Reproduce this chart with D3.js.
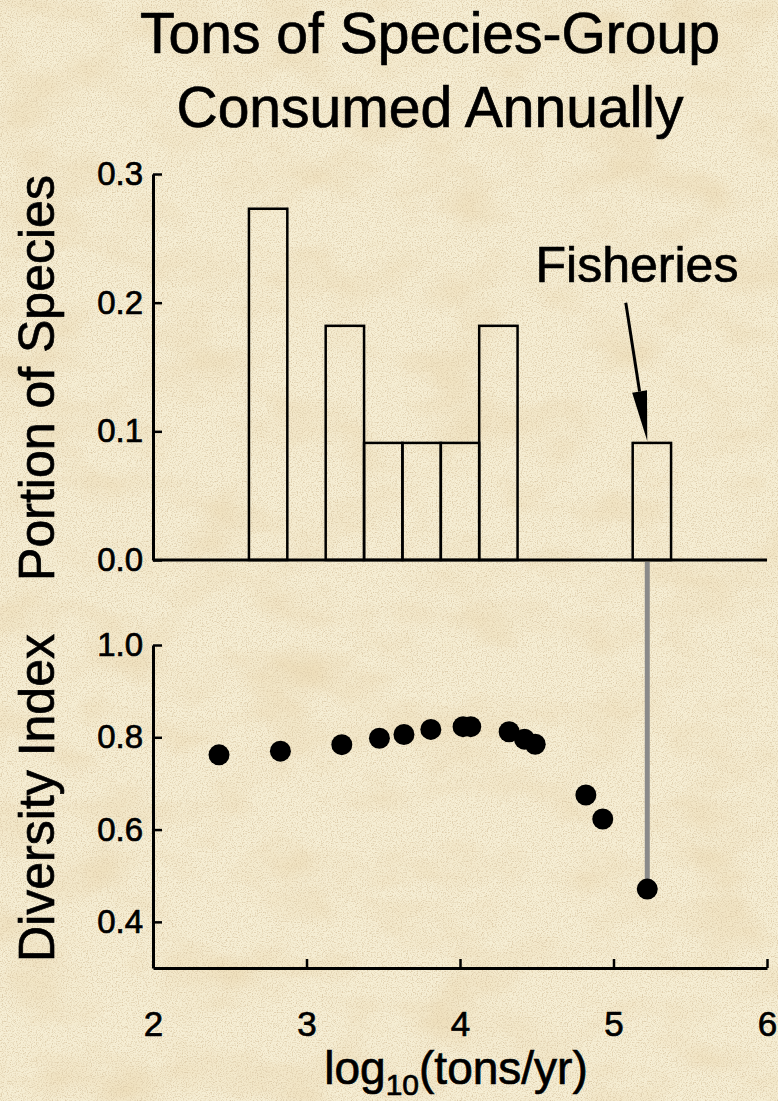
<!DOCTYPE html>
<html lang="en">

<head>
    <meta charset="utf-8">

    <!-- Load d3.js -->
    <script src="https://d3js.org/d3.v7.min.js"></script>
    <title>Tons of Species-Group Consumed Annually</title>

    <style>
        body {
            margin: 0;
            padding: 0;
            background-color: #efe3c2;
        }

        svg text {
            font-family: "Liberation Sans", Arial, sans-serif;
            fill: black;
            stroke: black;
            stroke-width: 0.7px;
        }
    </style>
</head>

<body>
    <svg id="my_dataviz" width="778" height="1101"></svg>
    <script>

        // histogram: bins of log10(tons/yr), width 0.25
        var binCenters = [2.75, 3.25, 3.5, 3.75, 4.0, 4.25, 5.25];
        var binWidth = 0.25;
        var portion = [0.273, 0.182, 0.091, 0.091, 0.091, 0.182, 0.091];

        // diversity index per species-group
        var logTons = [2.43, 2.83, 3.23, 3.475, 3.635, 3.81, 4.02, 4.07, 4.32, 4.42, 4.49, 4.82, 4.93, 5.22];
        var diversity = [0.762, 0.770, 0.784, 0.798, 0.806, 0.817, 0.823, 0.823, 0.812, 0.796, 0.785, 0.675, 0.623, 0.471];

        // tick labels
        var xTicks = [2, 3, 4, 5, 6];
        var topTicks = [0.0, 0.1, 0.2, 0.3];
        var botTicks = [0.4, 0.6, 0.8, 1.0];

        var fisheriesX = 5.22;

        // The svg
        var svg = d3.select("svg"),
            width = +svg.attr("width"),
            height = +svg.attr("height");

        // parchment background
        var defs = svg.append("defs");
        var paper = defs.append("filter").attr("id", "paper")
            .attr("x", 0).attr("y", 0).attr("width", "100%").attr("height", "100%");
        paper.append("feTurbulence")
            .attr("type", "fractalNoise").attr("baseFrequency", "0.012 0.02")
            .attr("numOctaves", 3).attr("seed", 7).attr("result", "blot");
        paper.append("feColorMatrix").attr("in", "blot").attr("type", "matrix")
            .attr("values", "0 0 0 0 0.84  0 0 0 0 0.70  0 0 0 0 0.45  1.6 0 0 0 -0.72")
            .attr("result", "blotC");
        paper.append("feTurbulence")
            .attr("type", "fractalNoise").attr("baseFrequency", "0.8")
            .attr("numOctaves", 2).attr("seed", 2).attr("result", "grain");
        paper.append("feColorMatrix").attr("in", "grain").attr("type", "matrix")
            .attr("values", "0 0 0 0 0.72  0 0 0 0 0.60  0 0 0 0 0.40  3.0 0 0 0 -1.4")
            .attr("result", "grainC");
        var merge = paper.append("feMerge");
        merge.append("feMergeNode").attr("in", "blotC");
        merge.append("feMergeNode").attr("in", "grainC");

        svg.append("rect").attr("width", width).attr("height", height).attr("fill", "#f6eed4");
        svg.append("rect").attr("width", width).attr("height", height)
            .attr("fill", "white").attr("filter", "url(#paper)");

        // scales
        var x = d3.scaleLinear().domain([2, 6]).range([153, 767]);
        var yTop = d3.scaleLinear().domain([0, 0.3]).range([560, 174]);
        var yBot = d3.scaleLinear().domain([0.3, 1.0]).range([968, 645]);

        // title
        var title = svg.append("text")
            .attr("text-anchor", "middle")
            .style("font-size", "57px");
        title.append("tspan").attr("x", 430).attr("y", 53).text("Tons of Species-Group");
        title.append("tspan").attr("x", 430).attr("y", 127).text("Consumed Annually");

        // top panel: histogram
        svg.append("g")
            .selectAll("rect")
            .data(binCenters)
            .enter()
            .append("rect")
            .attr("x", function (d) { return x(d - binWidth / 2); })
            .attr("width", function (d) { return x(d + binWidth / 2) - x(d - binWidth / 2); })
            .attr("y", function (d, i) { return yTop(portion[i]); })
            .attr("height", function (d, i) { return yTop(0) - yTop(portion[i]); })
            .attr("fill", "none")
            .attr("stroke", "black")
            .attr("stroke-width", 2.5);

        var axTop = svg.append("g")
            .attr("transform", "translate(" + x(2) + ",0)")
            .call(d3.axisLeft(yTop).tickValues(topTicks).tickFormat(d3.format(".1f"))
                .tickSizeInner(-9).tickSizeOuter(0).tickPadding(10));

        svg.append("line")
            .attr("x1", x(2)).attr("x2", x(6))
            .attr("y1", yTop(0)).attr("y2", yTop(0))
            .attr("stroke", "black").attr("stroke-width", 3);

        // bottom panel: diversity index
        var axBotY = svg.append("g")
            .attr("transform", "translate(" + x(2) + ",0)")
            .call(d3.axisLeft(yBot).tickValues(botTicks).tickFormat(d3.format(".1f"))
                .tickSizeInner(-9).tickSizeOuter(0).tickPadding(10));

        var axBotX = svg.append("g")
            .attr("transform", "translate(0," + yBot(0.3) + ")")
            .call(d3.axisBottom(x).tickValues(xTicks).tickFormat(d3.format("d"))
                .tickSizeInner(-9).tickSizeOuter(0).tickPadding(43));

        [axTop, axBotY, axBotX].forEach(function (g) {
            g.select(".domain").attr("stroke-width", 3);
            g.selectAll(".tick line").attr("stroke-width", 2.5);
            g.selectAll(".tick text").style("font-size", "33px").attr("fill", "black");
        });
        axBotX.selectAll(".tick text").style("font-size", "35px");

        // grey link from the fisheries bar to its point
        svg.append("line")
            .attr("x1", x(fisheriesX)).attr("x2", x(fisheriesX))
            .attr("y1", yTop(0) + 2).attr("y2", yBot(diversity[diversity.length - 1]))
            .attr("stroke", "#8a8a8a").attr("stroke-width", 5);

        svg.append("g")
            .selectAll("circle")
            .data(logTons)
            .enter()
            .append("circle")
            .attr("cx", function (d) { return x(d); })
            .attr("cy", function (d, i) { return yBot(diversity[i]); })
            .attr("r", 10.5)
            .attr("fill", "black");

        // Fisheries annotation
        svg.append("text")
            .attr("x", 637).attr("y", 282)
            .attr("text-anchor", "middle")
            .style("font-size", "50px")
            .text("Fisheries");

        var a0 = [x(5.08), yTop(0.2)],
            a1 = [x(fisheriesX), yTop(0.091) - 2];
        var dx = a1[0] - a0[0], dy = a1[1] - a0[1], len = Math.sqrt(dx * dx + dy * dy);
        var ux = dx / len, uy = dy / len, headLen = 50, headW = 7.5;
        var hb = [a1[0] - ux * headLen, a1[1] - uy * headLen];
        svg.append("line")
            .attr("x1", a0[0]).attr("y1", a0[1])
            .attr("x2", hb[0]).attr("y2", hb[1])
            .attr("stroke", "black").attr("stroke-width", 3);
        svg.append("path")
            .attr("d", "M" + a1[0] + "," + a1[1] +
                "L" + (hb[0] - uy * headW) + "," + (hb[1] + ux * headW) +
                "L" + (hb[0] + uy * headW) + "," + (hb[1] - ux * headW) + "Z")
            .attr("fill", "black");

        // axis titles
        svg.append("text")
            .attr("transform", "translate(54,378) rotate(-90)")
            .attr("text-anchor", "middle")
            .style("font-size", "50px")
            .text("Portion of Species");

        svg.append("text")
            .attr("transform", "translate(54,798) rotate(-90)")
            .attr("text-anchor", "middle")
            .style("font-size", "50px")
            .text("Diversity Index");

        var xl = svg.append("text")
            .attr("x", 456).attr("y", 1084)
            .attr("text-anchor", "middle")
            .style("font-size", "46px");
        xl.append("tspan").text("log");
        xl.append("tspan").attr("dy", 11).style("font-size", "30px").text("10");
        xl.append("tspan").attr("dy", -11).text("(tons/yr)");

    </script>
</body>

</html>
